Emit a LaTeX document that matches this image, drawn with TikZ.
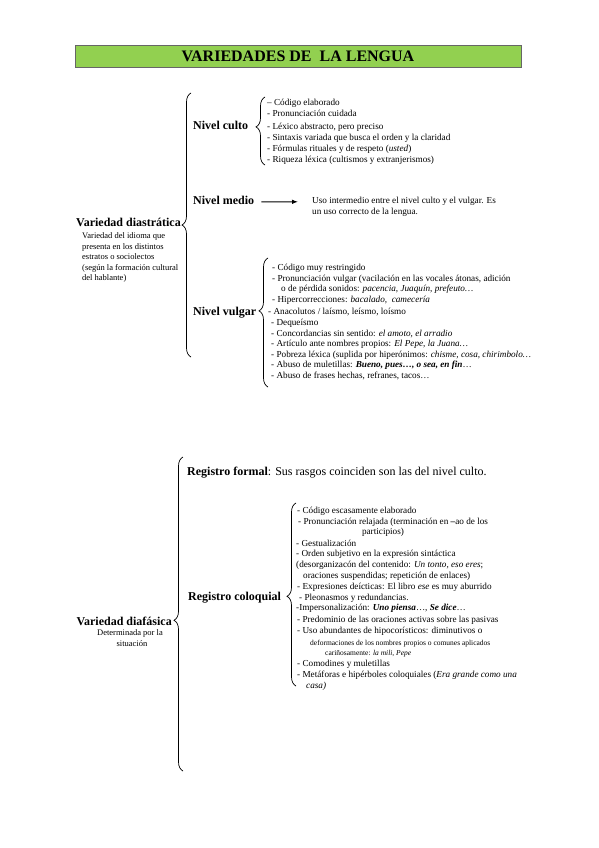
\documentclass[tikz,border=0pt]{standalone}
\usepackage{fontspec}
\setmainfont{Liberation Serif}
\usetikzlibrary{decorations.pathreplacing,arrows.meta}
\definecolor{titlegreen}{RGB}{146,208,80}
\begin{document}
\begin{tikzpicture}[x=1pt,y=-1pt,
  lst/.style={anchor=base west, inner sep=0pt, font=\fontsize{9.2}{11}\selectfont},
  desc/.style={anchor=base west, inner sep=0pt, font=\fontsize{8.5}{10}\selectfont},
  sml/.style={anchor=base west, inner sep=0pt, font=\fontsize{7.5}{9}\selectfont},
  head/.style={anchor=base west, inner sep=0pt, font=\fontsize{12}{14}\selectfont\bfseries},
  brc/.style={decorate, decoration={brace, amplitude=9pt, aspect=#1}, line width=0.7pt},
  brc/.default=0.5]
\useasboundingbox (0,0) rectangle (599,848);
\fill[white] (0,0) rectangle (599,848);

% title
\node[draw=black!60, fill=titlegreen, line width=0.8pt, minimum width=446pt, minimum height=22pt, inner sep=0pt,
  font=\fontsize{16}{18}\selectfont\bfseries] (title) at (298,56) {VARIEDADES DE\ \ LA LENGUA};

% ===== Variedad diastratica =====
\node[head, anchor=base east] (diastr) at (181,226) {Variedad diastrática};
\node[desc] (d1) at (82,238) {Variedad del idioma que};
\node[desc] (d2) at (82,249) {presenta en los distintos};
\node[desc] (d3) at (82,259) {estratos o sociolectos};
\node[desc] (d4) at (82,270) {(según la formación cultural};
\node[desc] (d5) at (82,280) {del hablante)};
\draw[brc=0.5] (191,357) -- (191,93);

\node[head] (culto) at (193,130) {Nivel culto};
\draw[brc=0.56] (265,165) -- (265,97);
\node[lst] (c1) at (267,106) {– Código elaborado};
\node[lst] (c2) at (267,117) {- Pronunciación cuidada};
\node[lst] (c3) at (267,129) {- Léxico abstracto, pero preciso};
\node[lst] (c4) at (267,140) {- Sintaxis variada que busca el orden y la claridad};
\node[lst] (c5) at (267,151) {- Fórmulas rituales y de respeto (\textit{usted})};
\node[lst] (c6) at (267,162) {- Riqueza léxica (cultismos y extranjerismos)};

\node[head] (medio) at (193,204) {Nivel medio};
\node[lst] (m1) at (312,203) {Uso intermedio entre el nivel culto y el vulgar. Es};
\node[lst] (m2) at (312,214) {un uso correcto de la lengua.};
\draw[line width=0.9pt, -{Latex[length=6pt,width=4.5pt]}] ([xshift=7pt,yshift=-2pt]medio.east) -- ([xshift=-14pt,yshift=-1pt]m1.west);

\node[head] (vulgar) at (193,315) {Nivel vulgar};
\draw[brc=0.59] (268,387) -- (268,258);
\node[lst] (v1) at (272,270) {- Código muy restringido};
\node[lst] (v2) at (272,281) {- Pronunciación vulgar (vacilación en las vocales átonas, adición};
\node[lst] (v3) at (281,291) {o de pérdida sonidos: \textit{pacencia, Juaquín, prefeuto…}};
\node[lst] (v4) at (272,302) {- Hipercorrecciones: \textit{bacalado,\ \ camecería}};
\node[lst] (v5) at (268,314) {- Anacolutos / laísmo, leísmo, loísmo};
\node[lst] (v6) at (271,325) {- Dequeísmo};
\node[lst] (v7) at (271,336) {- Concordancias sin sentido: \textit{el amoto, el arradio}};
\node[lst] (v8) at (271,346.5) {- Artículo ante nombres propios: \textit{El Pepe, la Juana…}};
\node[lst] (v9) at (271,357) {- Pobreza léxica (suplida por hiperónimos: \textit{chisme, cosa, chirimbolo…}};
\node[lst] (v10) at (271,367.5) {- Abuso de muletillas: \textbf{\textit{Bueno, pues…, o sea, en fin}}…};
\node[lst] (v11) at (271,378) {- Abuso de frases hechas, refranes, tacos…};

% ===== Variedad diafasica =====
\node[head, anchor=base east] (diaf) at (172,625) {Variedad diafásica};
\node[desc, anchor=base] (e1) at (130,635) {Determinada por la};
\node[desc, anchor=base] (e2) at (132,646) {situación};
\draw[brc=0.48] (183,771) -- (183,457);

\node[head] (formal) at (187,475) {Registro formal\textmd{: Sus rasgos coinciden son las del nivel culto.}};

\node[head] (coloq) at (188,600) {Registro coloquial};
\draw[brc=0.49] (296,686) -- (296,503);
\node[lst] (r1) at (297,513) {- Código escasamente elaborado};
\node[lst] (r2) at (298,524) {- Pronunciación relajada (terminación en \textbf{–}ao de los};
\node[lst, anchor=base] (r3) at (383,534) {participios)};
\node[lst] (r4) at (296,546) {- Gestualización};
\node[lst] (r5) at (296,556) {- Orden subjetivo en la expresión sintáctica};
\node[lst] (r6) at (296,567) {(desorganizacón del contenido: \textit{Un tonto, eso eres};};
\node[lst] (r7) at (303,578) {oraciones suspendidas; repetición de enlaces)};
\node[lst] (r8) at (297,589) {- Expresiones deícticas: El libro \textit{ese} es muy aburrido};
\node[lst] (r9) at (299,600) {- Pleonasmos y redundancias.};
\node[lst] (r10) at (296,610) {-Impersonalización: \textbf{\textit{Uno piensa}}…, \textbf{\textit{Se dice}}…};
\node[lst] (r11) at (297,622) {- Predominio de las oraciones activas sobre las pasivas};
\node[lst] (r12) at (297,633) {- Uso abundantes de hipocorísticos: diminutivos o};
\node[sml] (r13) at (310,645) {deformaciones de los nombres propios o comunes aplicados};
\node[sml] (r14) at (325,655) {cariñosamente: \textit{la mili, Pepe}};
\node[lst] (r15) at (297,666) {- Comodines y muletillas};
\node[lst] (r16) at (297,677) {- Metáforas e hipérboles coloquiales (\textit{Era grande como una}};
\node[lst] (r17) at (306,688) {\textit{casa)}};
\end{tikzpicture}
\end{document}
